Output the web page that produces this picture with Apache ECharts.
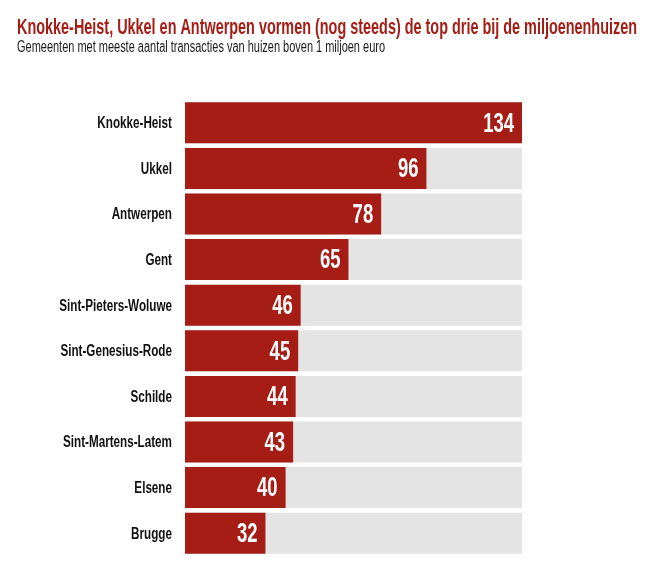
<!DOCTYPE html>
<html><head><meta charset="utf-8">
<script src="https://cdn.jsdelivr.net/npm/echarts@6/dist/echarts.min.js"></script>
<style>html,body{margin:0;padding:0;background:#fff}#c{width:660px;height:563px}</style>
</head><body><div id="c"></div>
<script>
var categories = ["Knokke-Heist","Ukkel","Antwerpen","Gent","Sint-Pieters-Woluwe","Sint-Genesius-Rode","Schilde","Sint-Martens-Latem","Elsene","Brugge"];
var values = [134,96,78,65,46,45,44,43,40,32];
var titleText = "Knokke-Heist, Ukkel en Antwerpen vormen (nog steeds) de top drie bij de miljoenenhuizen";
var subtitleText = "Gemeenten met meeste aantal transacties van huizen boven 1 miljoen euro";

var FONT = "'Liberation Sans',Arial,sans-serif";
var RED = '#a51d15';
function measure(text, font){
  var ctx = document.createElement('canvas').getContext('2d');
  ctx.font = font; return ctx.measureText(text).width;
}
var titleFont = "bold 22px " + FONT;
var subFont = "16px " + FONT;
var titleScale = 620 / measure(titleText, titleFont);
var subScale = 368 / measure(subtitleText, subFont);

var catFont = "bold 16px " + FONT;
var valFont = "bold 28px " + FONT;

var chart = echarts.init(document.getElementById('c'));
chart.setOption({
  animation:false,
  graphic:[
    {type:'text', x:17, y:28, scaleX:titleScale, style:{text:titleText, font:titleFont, fill:RED, textVerticalAlign:'middle'}},
    {type:'text', x:17, y:48, scaleX:subScale, style:{text:subtitleText, font:subFont, fill:'#1a1a1a', textVerticalAlign:'middle'}}
  ],
  grid:{left:185, right:138, top:100, bottom:7},
  xAxis:{type:'value', min:0, max:134, show:false},
  yAxis:{type:'category', data:categories, inverse:true,
    axisLine:{show:false}, axisTick:{show:false}, axisLabel:{show:false}},
  series:[
    {type:'bar', data:values, barWidth:41, z:2,
      showBackground:true, backgroundStyle:{color:'#e4e4e4'},
      itemStyle:{color:RED}},
    {type:'custom', silent:true, clip:false, z:10,
      data: values.map(function(v,i){return [v,i];}),
      encode:{x:0, y:1},
      renderItem:function(params, api){
        var i = api.value(1), v = api.value(0);
        var left = api.coord([0, i]);
        var right = api.coord([v, i]);
        return {type:'group', children:[
          {type:'text', x:left[0]-13, y:left[1]+1, scaleX:0.73,
            style:{text:categories[i], font:catFont, fill:'#111', textAlign:'right', textVerticalAlign:'middle'}},
          {type:'text', x:right[0]-8, y:right[1]+1, scaleX:0.66,
            style:{text:String(v), font:valFont, fill:'#fff', textAlign:'right', textVerticalAlign:'middle'}}
        ]};
      }}
  ]
});
</script></body></html>
